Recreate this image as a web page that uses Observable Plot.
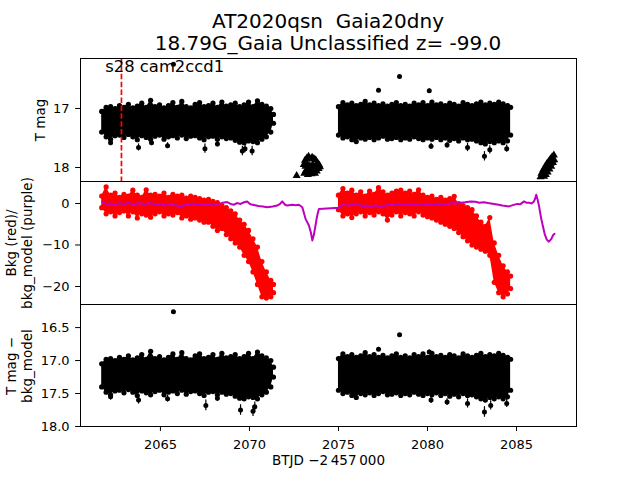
<!DOCTYPE html>
<html><head><meta charset="utf-8">
<script src="https://cdn.jsdelivr.net/npm/d3@7"></script>
<script src="https://cdn.jsdelivr.net/npm/@observablehq/plot@0.6"></script>
<style>
body{margin:0;background:#fff;font-family:"DejaVu Sans",sans-serif;}
#wrap{position:relative;width:640px;height:480px;overflow:hidden;background:#fff;}
.panel{position:absolute;left:0;}
#title{position:absolute;left:0;width:656px;top:10px;text-align:center;font-size:20px;line-height:22px;color:#000;white-space:pre;font-family:"DejaVu Sans",sans-serif;}
.ylab{position:absolute;white-space:nowrap;font-size:13.5px;line-height:16px;color:#000;transform:translate(-50%,-50%) rotate(-90deg);font-family:"DejaVu Sans",sans-serif;}
</style></head><body>
<div id="wrap"><div id="title"></div></div>
<script>
// ---------- text ----------
const titleLines = ["AT2020qsn  Gaia20dny", "18.79G_Gaia Unclassified z= -99.0"];
const sectorLabel = "s28 cam2ccd1";
const yLabel1 = ["T mag"];
const yLabel2 = ["Bkg (red)/", "bkg_model (purple)"];
const yLabel3 = ["T mag \u2212", "bkg_model"];
const xLabel = "BTJD \u22122\u2009457\u2009000";

// ---------- ticks ----------
const xTicks = [2065, 2070, 2075, 2080, 2085];
const magTicks1 = [17, 18];
const bkgTicks = [0, -10, -20];
const magTicks3 = [16.5, 17.0, 17.5, 18.0];

// ---------- sector start ----------
const sectorStart = 2062.81;

// ---------- orbit 1 light curve envelope (T mag) ----------
const orbit1T = [2061.70, 2061.95, 2062.20, 2062.45, 2062.70, 2062.95, 2063.20, 2063.45, 2063.70, 2063.95,
  2064.20, 2064.45, 2064.70, 2064.95, 2065.20, 2065.45, 2065.70, 2065.95, 2066.20, 2066.45,
  2066.70, 2066.95, 2067.20, 2067.45, 2067.70, 2067.95, 2068.20, 2068.45, 2068.70, 2068.95,
  2069.20, 2069.45, 2069.70, 2069.95, 2070.20, 2070.45, 2070.70, 2070.95, 2071.20, 2071.35];
const orbit1Bright = [17.05, 16.98, 16.97, 17.00, 16.95, 16.98, 16.93, 16.99, 16.96, 16.91,
  16.98, 16.86, 16.97, 16.94, 16.99, 16.95, 16.90, 16.98, 16.88, 16.97,
  16.99, 16.93, 16.90, 16.97, 16.95, 16.91, 16.98, 16.89, 16.96, 16.94,
  16.91, 16.97, 16.94, 16.89, 16.97, 16.87, 16.93, 16.96, 17.00, 17.10];
const orbit1Faint = [17.40, 17.48, 17.52, 17.46, 17.45, 17.49, 17.44, 17.48, 17.53, 17.46,
  17.49, 17.52, 17.47, 17.45, 17.52, 17.48, 17.46, 17.50, 17.45, 17.51,
  17.47, 17.46, 17.50, 17.53, 17.48, 17.47, 17.52, 17.48, 17.51, 17.50,
  17.54, 17.57, 17.58, 17.55, 17.56, 17.58, 17.52, 17.48, 17.40, 17.25];

// ---------- orbit 2 light curve envelope (T mag) ----------
const orbit2T = [2075.00, 2075.25, 2075.50, 2075.75, 2076.00, 2076.25, 2076.50, 2076.75, 2077.00, 2077.25,
  2077.50, 2077.75, 2078.00, 2078.25, 2078.50, 2078.75, 2079.00, 2079.25, 2079.50, 2079.75,
  2080.00, 2080.25, 2080.50, 2080.75, 2081.00, 2081.25, 2081.50, 2081.75, 2082.00, 2082.25,
  2082.50, 2082.75, 2083.00, 2083.25, 2083.50, 2083.75, 2084.00, 2084.25, 2084.50, 2084.67];
const orbit2Bright = [16.97, 16.90, 16.94, 16.91, 16.95, 16.93, 16.88, 16.94, 16.91, 16.95,
  16.92, 16.96, 16.93, 16.90, 16.95, 16.93, 16.96, 16.91, 16.94, 16.90,
  16.95, 16.89, 16.94, 16.92, 16.95, 16.91, 16.93, 16.96, 16.90, 16.93,
  16.95, 16.92, 16.89, 16.94, 16.91, 16.93, 16.89, 16.92, 16.95, 16.98];
const orbit2Faint = [17.45, 17.50, 17.48, 17.53, 17.56, 17.50, 17.52, 17.49, 17.53, 17.50,
  17.47, 17.52, 17.51, 17.49, 17.53, 17.50, 17.52, 17.48, 17.51, 17.53,
  17.50, 17.52, 17.49, 17.53, 17.50, 17.54, 17.51, 17.55, 17.50, 17.53,
  17.52, 17.55, 17.58, 17.60, 17.56, 17.58, 17.55, 17.58, 17.55, 17.45];

// ---------- isolated T mag points (with errors) ----------
const magOutT = [2065.73, 2062.20, 2063.77, 2064.50, 2065.40, 2067.50, 2068.20, 2069.60, 2069.75, 2070.15,
  2077.25, 2078.43, 2080.10, 2080.20, 2081.10, 2082.25, 2083.20, 2083.50, 2084.45];
const magOutV = [16.25, 17.58, 17.66, 17.58, 17.63, 17.68, 17.60, 17.72, 17.68, 17.72,
  16.69, 16.46, 16.70, 17.64, 17.62, 17.66, 17.81, 17.70, 17.68];
const magOutE = [0.02, 0.05, 0.06, 0.05, 0.05, 0.08, 0.05, 0.08, 0.07, 0.08,
  0.03, 0.02, 0.03, 0.05, 0.05, 0.07, 0.08, 0.07, 0.06];

// ---------- upper limits (triangles) ----------
const limitT = [2072.65,
  2073.05, 2073.08, 2073.12, 2073.18, 2073.22, 2073.28, 2073.32, 2073.38, 2073.42, 2073.48,
  2073.52, 2073.58, 2073.62, 2073.68, 2073.72, 2073.78, 2073.82, 2073.88, 2073.92, 2073.96,
  2073.15, 2073.25, 2073.35, 2073.45, 2073.55, 2073.65, 2073.75, 2073.85, 2073.30, 2073.50, 2073.70,
  2086.35, 2086.40, 2086.45, 2086.50, 2086.55, 2086.60, 2086.65, 2086.70, 2086.75, 2086.80,
  2086.85, 2086.90, 2086.95, 2087.00, 2087.05, 2087.10, 2087.12, 2086.62, 2086.72, 2086.82, 2086.92, 2087.02];
const limitV = [18.14,
  17.95, 18.10, 17.88, 18.05, 17.84, 18.12, 17.81, 18.08, 17.86, 18.11,
  17.83, 18.09, 17.85, 18.10, 17.87, 18.06, 17.92, 18.02, 17.96, 17.99,
  17.98, 17.96, 17.97, 17.98, 17.95, 17.99, 17.97, 17.94, 18.04, 18.04, 18.00,
  18.16, 18.10, 18.14, 18.04, 18.15, 17.99, 18.12, 17.94, 18.08, 17.90,
  18.03, 17.86, 17.98, 17.82, 17.92, 17.79, 17.87, 18.06, 18.01, 17.97, 17.93, 17.88];

// ---------- background flux envelope (red) ----------
const bkg1High = [1.8, 4.0, 2.0, 2.5, 1.5, 2.2, 1.8, 3.2, 2.0, 1.5,
  3.3, 2.0, 2.2, 1.8, 2.5, 1.5, 2.2, 1.8, 2.0, 1.3,
  1.8, 1.5, 1.2, 0.8, 1.0, 0.5, 0.2, -0.5, -1.0, -1.8,
  -2.5, -4.0, -5.0, -6.5, -8.5, -10.5, -14.0, -16.5, -18.5, -19.5];
const bkg1Low = [-1.0, -2.5, -2.0, -3.0, -2.2, -1.8, -3.0, -2.0, -3.5, -2.5,
  -2.8, -3.3, -2.5, -2.0, -3.0, -2.5, -2.8, -2.2, -3.5, -3.0,
  -3.8, -3.5, -4.0, -4.5, -4.5, -5.5, -6.5, -6.0, -7.5, -8.5,
  -9.5, -10.5, -12.5, -14.0, -16.5, -19.5, -22.5, -22.8, -22.5, -21.5];
const bkg2High = [2.0, 3.6, 2.5, 3.2, 2.0, 2.8, 1.8, 3.0, 2.2, 3.8,
  2.8, 2.0, 2.5, 3.0, 3.2, 2.5, 3.0, 2.2, 3.3, 2.0,
  1.5, 1.8, 1.0, 1.5, 0.8, 1.2, 1.7, 0.0, -0.5, -1.0,
  -1.5, -3.0, -4.5, -5.5, -3.4, -9.5, -12.5, -15.0, -16.5, -17.5];
const bkg2Low = [-1.5, -3.0, -2.5, -3.4, -2.5, -2.0, -3.0, -2.2, -2.8, -2.0,
  -2.5, -4.0, -2.8, -2.0, -3.0, -2.2, -2.5, -3.0, -2.0, -2.8,
  -3.2, -3.5, -4.0, -4.5, -5.0, -5.5, -6.0, -7.0, -8.0, -9.0,
  -10.0, -10.5, -11.0, -11.5, -12.5, -19.0, -21.5, -22.5, -21.8, -20.5];

// ---------- background model (purple) ----------
const modelT = [2061.73, 2061.95, 2062.20, 2062.45, 2062.70, 2062.95, 2063.20, 2063.50, 2063.80, 2064.10,
  2064.44, 2064.70, 2065.00, 2065.38, 2065.70, 2065.95, 2066.13, 2066.30, 2066.50, 2066.80,
  2067.00, 2067.25, 2067.60, 2068.00, 2068.30, 2068.50, 2068.75, 2069.00, 2069.12, 2069.30,
  2069.50, 2069.70, 2069.87, 2070.05, 2070.25, 2070.50, 2070.75, 2071.00, 2071.30, 2071.56,
  2071.72, 2071.84, 2072.00, 2072.12, 2072.40, 2072.60, 2072.78, 2072.97, 2073.15, 2073.34,
  2073.45, 2073.53, 2073.62, 2073.71, 2073.80, 2073.90, 2075.02, 2075.10, 2075.30, 2075.50,
  2075.86, 2076.10, 2076.30, 2076.61, 2076.90, 2077.10, 2077.36, 2077.60, 2077.85, 2078.11,
  2078.40, 2078.60, 2078.86, 2079.10, 2079.30, 2079.61, 2079.90, 2080.10, 2080.36, 2080.60,
  2080.85, 2081.11, 2081.40, 2081.60, 2081.86, 2082.10, 2082.42, 2082.70, 2082.90, 2083.17,
  2083.40, 2083.74, 2084.00, 2084.20, 2084.40, 2084.57, 2084.80, 2085.04, 2085.20, 2085.42,
  2085.55, 2085.70, 2085.85, 2085.98, 2086.05, 2086.11, 2086.18, 2086.26, 2086.39, 2086.50,
  2086.58, 2086.70, 2086.82, 2086.95, 2087.06, 2087.14];
const modelV = [0.3, -0.1, 0.0, -0.3, 0.1, -0.2, 0.2, -0.3, 0.1, -0.2,
  0.1, -0.3, 0.0, -0.45, -0.2, -0.5, -0.9, -0.4, -0.3, 0.0,
  -0.3, -0.1, -0.2, -0.45, -0.1, 0.2, 0.35, -0.2, -0.3, 0.1,
  -0.1, 0.3, 0.5, -0.2, -0.35, -0.6, -0.7, -0.9, -0.7, -0.5,
  -0.1, 0.5, -0.3, -0.5, -0.3, -0.4, -0.3, -0.9, -3.7, -5.3,
  -7.0, -8.9, -7.5, -5.3, -3.0, -1.3, -1.0, -0.6, -0.2, -0.5,
  -0.3, -0.1, -0.6, -0.5, -0.7, -0.4, -0.9, -0.5, -0.3, -0.3,
  -0.1, -0.4, -0.3, 0.0, -0.3, -0.1, -0.4, -0.2, -0.3, 0.0,
  -0.2, -0.1, 0.1, 0.0, 0.2, 0.3, 0.5, 0.4, 0.2, 0.3,
  0.1, -0.1, -0.3, -0.5, -0.6, -0.7, -0.4, -0.1, -0.2, 0.5,
  0.2, 0.2, 0.0, 0.5, 1.2, 2.1, 1.0, -0.5, -3.7, -5.8,
  -7.3, -8.7, -9.2, -8.6, -7.6, -7.3];

// ---------- isolated (T mag - bkg_model) points ----------
const diffOutT = [2065.73, 2062.20, 2063.77, 2065.40, 2067.55, 2068.20, 2069.50, 2070.20, 2070.30,
  2077.25, 2078.43, 2080.10, 2080.20, 2081.10, 2082.25, 2083.20, 2083.55, 2084.45];
const diffOutV = [16.26, 17.55, 17.60, 17.58, 17.68, 17.57, 17.75, 17.77, 17.70,
  16.83, 16.61, 16.87, 17.60, 17.63, 17.65, 17.78, 17.68, 17.65];
const diffOutE = [0.02, 0.05, 0.06, 0.05, 0.08, 0.05, 0.08, 0.08, 0.07,
  0.03, 0.02, 0.03, 0.05, 0.05, 0.07, 0.08, 0.07, 0.06];

// ---------- build tables ----------
const band = (T, a, b) => T.map((t, i) => ({t, a: a[i], b: b[i]}));
const pts = (T, V, E) => T.map((t, i) => ({t, v: V[i], e: E ? E[i] : 0}));
const mag1 = band(orbit1T, orbit1Bright, orbit1Faint);
const mag2 = band(orbit2T, orbit2Bright, orbit2Faint);
const bk1 = band(orbit1T, bkg1High, bkg1Low);
const bk2 = band(orbit2T, bkg2High, bkg2Low);
const magOut = pts(magOutT, magOutV, magOutE);
const diffOut = pts(diffOutT, diffOutV, diffOutE);
const limits = pts(limitT, limitV);
const model = pts(modelT, modelV);

const xDomain = [2060.51, 2088.37];
const FONT = "DejaVu Sans";
const common = {
  width: 640, marginLeft: 80, marginRight: 64,
  style: {fontFamily: FONT, fontSize: "13px", background: "transparent", overflow: "visible", color: "black"}
};
const yAxisOpts = {tickSize: 4.9, tickPadding: 6, label: null};

function bandMarks(rows, color) {
  return [
    Plot.areaY(rows, {x: "t", y1: "a", y2: "b", fill: color, curve: "linear"}),
    Plot.dot(rows, {x: "t", y: "a", r: 2.6, fill: color}),
    Plot.dot(rows, {x: "t", y: "b", r: 2.6, fill: color})
  ];
}
function outMarks(rows) {
  return [
    Plot.ruleX(rows, {x: "t", y1: d => d.v - d.e, y2: d => d.v + d.e, stroke: "black", strokeWidth: 1.2}),
    Plot.dot(rows, {x: "t", y: "v", r: 2.5, fill: "black"})
  ];
}

const p1 = Plot.plot({
  ...common, height: 181, marginTop: 58, marginBottom: 0,
  x: {domain: xDomain, axis: null},
  y: {domain: [16.153, 18.237], reverse: true, ticks: magTicks1, tickFormat: d => String(d), ...yAxisOpts},
  marks: [
    ...bandMarks(mag1, "black"),
    ...bandMarks(mag2, "black"),
    ...outMarks(magOut),
    Plot.dot(limits, {x: "t", y: "v", symbol: "triangle", r: 3, fill: "black"}),
    Plot.ruleX([sectorStart], {stroke: "red", strokeWidth: 1.7, strokeDasharray: "5.5,2.4"}),
    Plot.text([sectorLabel], {x: 2061.9, y: 16.29, text: d => d, textAnchor: "start", fontSize: 16.4}),
    Plot.frame({stroke: "black"})
  ]
});

const p2 = Plot.plot({
  ...common, height: 123, marginTop: 0, marginBottom: 0,
  x: {domain: xDomain, axis: null},
  y: {domain: [-24.34, 5.3], ticks: bkgTicks, ...yAxisOpts},
  marks: [
    ...bandMarks(bk1, "#ff0000"),
    ...bandMarks(bk2, "#ff0000"),
    Plot.line(model, {x: "t", y: "v", stroke: "#bf00bf", strokeWidth: 2}),
    Plot.frame({stroke: "black"})
  ]
});

const p3 = Plot.plot({
  ...common, height: 176, marginTop: 0, marginBottom: 54,
  x: {domain: xDomain, ticks: xTicks, tickFormat: d => String(d), tickSize: 4.9, tickPadding: 8, label: null},
  y: {domain: [16.15, 18.0], reverse: true, ticks: magTicks3, tickFormat: d3.format(".1f"), ...yAxisOpts},
  marks: [
    ...bandMarks(mag1, "black"),
    ...bandMarks(mag2, "black"),
    ...outMarks(diffOut),
    Plot.text([xLabel], {frameAnchor: "bottom", dy: 38, text: d => d, fontSize: 13.5}),
    Plot.frame({stroke: "black"})
  ]
});

const wrap = document.getElementById("wrap");
document.getElementById("title").textContent = titleLines.join("\n");
[[p1, 0], [p2, 181], [p3, 304]].forEach(([svg, top]) => {
  const d = document.createElement("div");
  d.className = "panel";
  d.style.top = top + "px";
  d.appendChild(svg);
  wrap.appendChild(d);
});
// rotated y-axis labels (centres in page pixels)
function addYLabel(text, cx, cy) {
  const el = document.createElement("div");
  el.className = "ylab";
  el.textContent = text;
  el.style.left = cx + "px";
  el.style.top = cy + "px";
  wrap.appendChild(el);
}
addYLabel(yLabel1[0], 40, 120);
addYLabel(yLabel2[0], 11, 243);
addYLabel(yLabel2[1], 27, 243);
addYLabel(yLabel3[0], 11, 366);
addYLabel(yLabel3[1], 27, 366);
</script></body></html>
